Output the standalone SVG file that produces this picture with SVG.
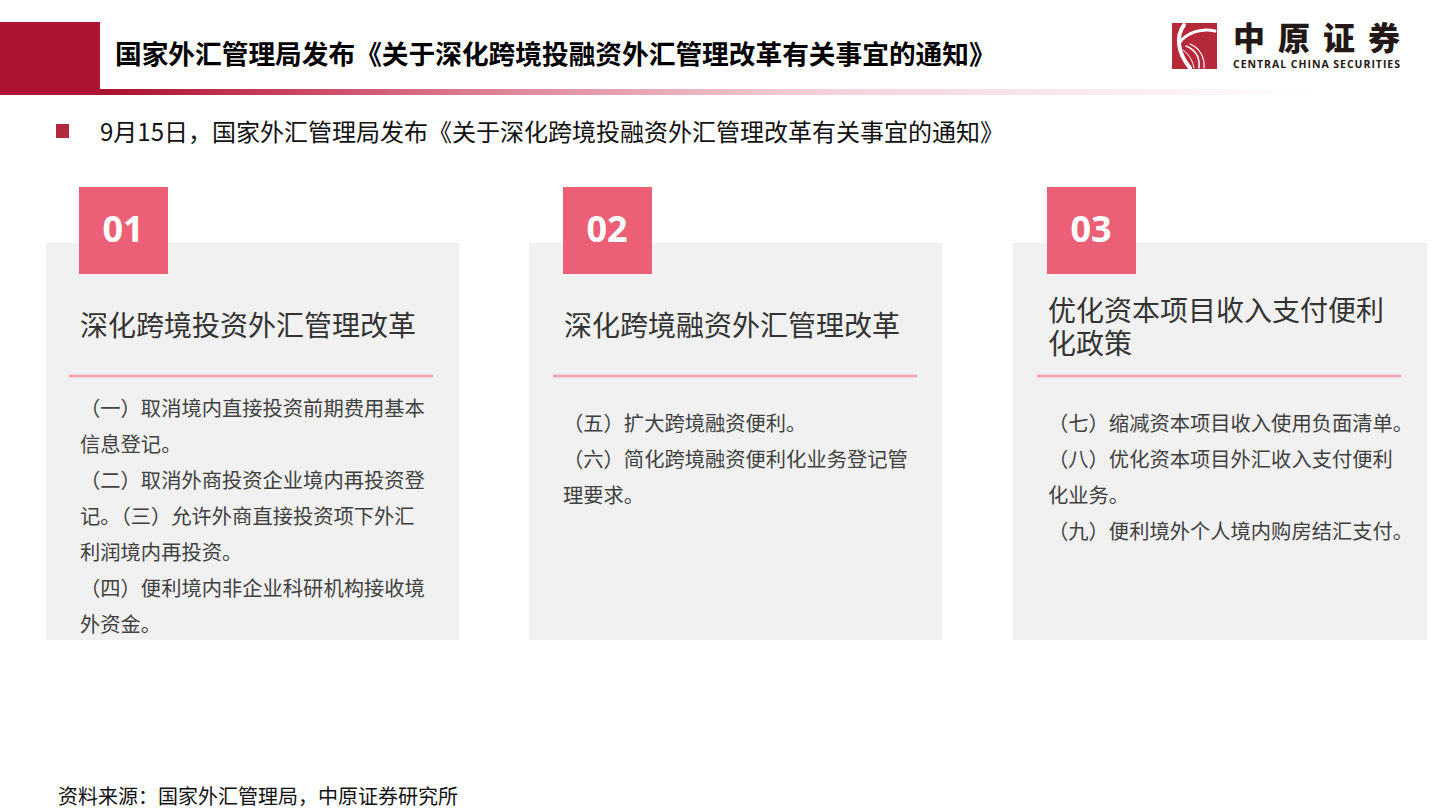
<svg xmlns="http://www.w3.org/2000/svg" width="1440" height="810" viewBox="0 0 1440 810">
  <defs>
    <linearGradient id="hdrLine" x1="100" y1="0" x2="1320" y2="0" gradientUnits="userSpaceOnUse">
      <stop offset="0" stop-color="#A8102E"/>
      <stop offset="0.15" stop-color="#C8405E"/>
      <stop offset="0.35" stop-color="#E08CA0"/>
      <stop offset="0.6" stop-color="#F3D3DB"/>
      <stop offset="1" stop-color="#FFFFFF"/>
    </linearGradient>
    <style>
      .cjk { font-family: "Noto Sans CJK SC", "Liberation Sans", sans-serif; }
      .card { fill: #F1F1F1; }
      .badge { fill: #EC6077; }
      .num { font-family: "Open Sans", "Liberation Sans", sans-serif; font-weight: 700; font-size: 36px; fill: #FFFFFF; text-anchor: middle; }
      .ttl { font-size: 28px; fill: #333333; }
      .body { font-size: 20.3px; fill: #404040; }
      .div { stroke: #F2A7B5; stroke-width: 3; }
      .swirl { fill: none; stroke: #FFFFFF; stroke-linecap: round; }
    </style>
  </defs>
  <rect width="1440" height="810" fill="#FFFFFF"/>

  <!-- header -->
  <g id="header">
    <rect x="0" y="22" width="100" height="73" fill="#AC1431"/>
    <rect x="100" y="89" width="1220" height="6" fill="url(#hdrLine)"/>
    <text class="cjk" x="115" y="64" font-size="26.7" font-weight="700" fill="#000000">国家外汇管理局发布《关于深化跨境投融资外汇管理改革有关事宜的通知》</text>
  </g>

  <!-- logo -->
  <g id="logo">
    <rect x="1172" y="23" width="45" height="46" fill="#B5293B"/>
    <path class="swirl" stroke-width="4" d="M1184,25 C1176,36 1177,52 1190,68"/>
    <path class="swirl" stroke-width="3" d="M1180,42 C1188,32 1202,28 1215,31"/>
    <path class="swirl" stroke-width="1.5" d="M1186,46 C1196,50 1200,58 1199,68"/>
    <path class="swirl" stroke-width="1.2" d="M1190,44 C1200,48 1205,58 1204,68"/>
    <path class="swirl" stroke-width="1" d="M1183,50 C1190,55 1193,62 1194,68"/>
    <text class="cjk" x="1233" y="50" font-size="32" font-weight="900" letter-spacing="13" fill="#231815">中原证券</text>
    <text x="1233" y="68" font-family="Open Sans, Liberation Sans, sans-serif" font-size="10.5" font-weight="700" fill="#231815" textLength="167" lengthAdjust="spacing">CENTRAL CHINA SECURITIES</text>
  </g>

  <!-- intro bullet -->
  <g id="intro">
    <rect x="56" y="124" width="13" height="14" fill="#B22A3E"/>
    <text class="cjk" x="100" y="141" font-size="24" fill="#111111">9月15日，国家外汇管理局发布《关于深化跨境投融资外汇管理改革有关事宜的通知》</text>
  </g>

  <!-- card 1 -->
  <g id="card1">
    <rect class="card" x="46" y="243" width="413" height="397"/>
    <rect class="badge" x="79" y="187" width="89" height="87"/>
    <text class="num" x="123" y="242">01</text>
    <text class="cjk ttl" x="80" y="336">深化跨境投资外汇管理改革</text>
    <line class="div" x1="69" y1="376" x2="433" y2="376"/>
    <text class="cjk body">
      <tspan x="80" y="415.5">（一）取消境内直接投资前期费用基本</tspan>
      <tspan x="80" y="451.5">信息登记。</tspan>
      <tspan x="80" y="487.5">（二）取消外商投资企业境内再投资登</tspan>
      <tspan x="80" y="523.5">记。（三）允许外商直接投资项下外汇</tspan>
      <tspan x="80" y="559.5">利润境内再投资。</tspan>
      <tspan x="80" y="595.5">（四）便利境内非企业科研机构接收境</tspan>
      <tspan x="80" y="631.5">外资金。</tspan>
    </text>
  </g>

  <!-- card 2 -->
  <g id="card2">
    <rect class="card" x="529" y="243" width="413" height="397"/>
    <rect class="badge" x="563" y="187" width="89" height="87"/>
    <text class="num" x="607" y="242">02</text>
    <text class="cjk ttl" x="564" y="336">深化跨境融资外汇管理改革</text>
    <line class="div" x1="553" y1="376" x2="917" y2="376"/>
    <text class="cjk body">
      <tspan x="563" y="431">（五）扩大跨境融资便利。</tspan>
      <tspan x="563" y="467">（六）简化跨境融资便利化业务登记管</tspan>
      <tspan x="563" y="503">理要求。</tspan>
    </text>
  </g>

  <!-- card 3 -->
  <g id="card3">
    <rect class="card" x="1013" y="243" width="414" height="397"/>
    <rect class="badge" x="1047" y="187" width="89" height="87"/>
    <text class="num" x="1091" y="242">03</text>
    <text class="cjk ttl" x="1048" y="320.5">优化资本项目收入支付便利</text>
    <text class="cjk ttl" x="1048" y="353.5">化政策</text>
    <line class="div" x1="1037" y1="376" x2="1401" y2="376"/>
    <text class="cjk body">
      <tspan x="1048" y="431">（七）缩减资本项目收入使用负面清单。</tspan>
      <tspan x="1048" y="467">（八）优化资本项目外汇收入支付便利</tspan>
      <tspan x="1048" y="503">化业务。</tspan>
      <tspan x="1048" y="539">（九）便利境外个人境内购房结汇支付。</tspan>
    </text>
  </g>

  <!-- footer -->
  <g id="footer">
    <text class="cjk" x="58" y="803.5" font-size="20" fill="#111111">资料来源：国家外汇管理局，中原证券研究所</text>
  </g>
</svg>
